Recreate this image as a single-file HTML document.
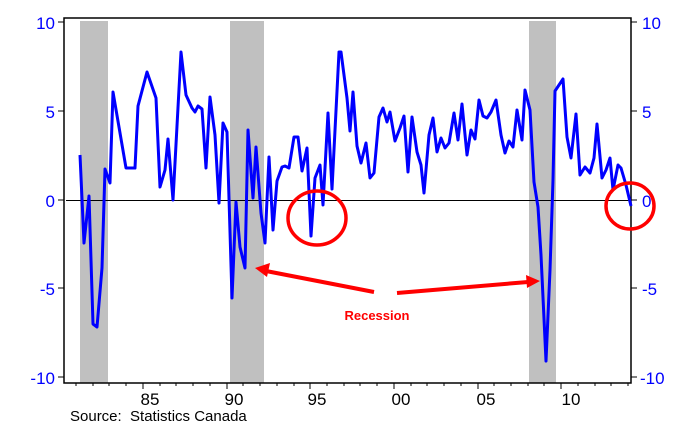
<!DOCTYPE html>
<html><head><style>body{margin:0;background:#fff}svg{display:block}</style></head><body>
<svg width="682" height="432" viewBox="0 0 682 432" font-family="Liberation Sans, sans-serif">
<rect x="80" y="21" width="28" height="362" fill="#c0c0c0"/>
<rect x="230" y="21" width="34" height="362" fill="#c0c0c0"/>
<rect x="529" y="21" width="27" height="362" fill="#c0c0c0"/>
<line x1="66" y1="200.5" x2="630" y2="200.5" stroke="#000" stroke-width="1"/>
<rect x="64" y="18" width="567" height="365" fill="none" stroke="#000" stroke-width="1.5"/>
<g stroke="#000" stroke-width="1">
<line x1="58" y1="22" x2="64" y2="22"/><line x1="58" y1="111" x2="64" y2="111"/><line x1="58" y1="200" x2="64" y2="200"/><line x1="58" y1="288" x2="64" y2="288"/><line x1="58" y1="377" x2="64" y2="377"/>
<line x1="631" y1="22" x2="637" y2="22"/><line x1="631" y1="111" x2="637" y2="111"/><line x1="631" y1="200" x2="637" y2="200"/><line x1="631" y1="288" x2="637" y2="288"/><line x1="631" y1="377" x2="637" y2="377"/>
</g>
<g stroke="#000" stroke-width="1">
<line x1="76" y1="383" x2="76" y2="386"/><line x1="93" y1="383" x2="93" y2="386"/><line x1="109" y1="383" x2="109" y2="386"/><line x1="126" y1="383" x2="126" y2="386"/>
<line x1="143" y1="383" x2="143" y2="389"/>
<line x1="160" y1="383" x2="160" y2="386"/><line x1="176" y1="383" x2="176" y2="386"/><line x1="193" y1="383" x2="193" y2="386"/><line x1="210" y1="383" x2="210" y2="386"/>
<line x1="227" y1="383" x2="227" y2="389"/>
<line x1="243" y1="383" x2="243" y2="386"/><line x1="260" y1="383" x2="260" y2="386"/><line x1="277" y1="383" x2="277" y2="386"/><line x1="294" y1="383" x2="294" y2="386"/>
<line x1="310" y1="383" x2="310" y2="389"/>
<line x1="327" y1="383" x2="327" y2="386"/><line x1="344" y1="383" x2="344" y2="386"/><line x1="360" y1="383" x2="360" y2="386"/><line x1="377" y1="383" x2="377" y2="386"/>
<line x1="394" y1="383" x2="394" y2="389"/>
<line x1="411" y1="383" x2="411" y2="386"/><line x1="427" y1="383" x2="427" y2="386"/><line x1="444" y1="383" x2="444" y2="386"/><line x1="461" y1="383" x2="461" y2="386"/>
<line x1="478" y1="383" x2="478" y2="389"/>
<line x1="494" y1="383" x2="494" y2="386"/><line x1="511" y1="383" x2="511" y2="386"/><line x1="528" y1="383" x2="528" y2="386"/><line x1="544" y1="383" x2="544" y2="386"/>
<line x1="561" y1="383" x2="561" y2="389"/>
<line x1="578" y1="383" x2="578" y2="386"/><line x1="595" y1="383" x2="595" y2="386"/><line x1="611" y1="383" x2="611" y2="386"/><line x1="628" y1="383" x2="628" y2="386"/>
</g>
<g fill="#0000ff" font-size="17" text-anchor="end">
<text x="55" y="29">10</text><text x="55" y="118">5</text><text x="55" y="207">0</text><text x="55" y="295">-5</text><text x="55" y="384">-10</text>
</g>
<g fill="#0000ff" font-size="17">
<text x="642" y="29">10</text><text x="642" y="118">5</text><text x="642" y="207">0</text><text x="642" y="295">-5</text><text x="640" y="384">-10</text>
</g>
<g font-size="17" text-anchor="middle" fill="#000">
<text x="150" y="405">85</text><text x="234" y="405">90</text><text x="317" y="405">95</text><text x="401" y="405">00</text><text x="486" y="405">05</text><text x="571" y="405">10</text>
</g>
<text x="70" y="421" font-size="15" fill="#000" xml:space="preserve">Source:  Statistics Canada</text>
<polyline fill="none" stroke="#0000ff" stroke-width="3" stroke-linejoin="round" points="80,155 84,243 89,196 93,324 97,327 102,268 105,169 110,183 113,92 126,168 130,168 135,168 138,106 147,72 156,98 160,187 165,170 168,139 173,200 181,52 186,95 192,108 195,112 198,106 202,109 206,168 210,97 215,135 219,203 223,123 227,132 232,298 236,202 240,247 245,268 248,130 253,198 256,147 261,213 265,243 269,157 273,230 277,181 282,167 285,166 289,168 294,137 298,137 302,171 307,148 311,236 315,178 320,165 323,205 328,113 332,189 339,52 341,52 347,98 350,131 353,92 357,146 361,163 366,143 370,178 374,173 379,117 383,108 387,122 390,112 395,141 400,128 404,116 408,172 412,117 417,152 421,165 424,193 429,135 433,118 437,152 441,138 445,148 449,143 454,113 458,140 462,104 467,155 471,130 475,139 479,100 483,116 487,118 491,112 496,100 501,135 505,153 509,141 513,147 517,110 522,140 525,90 530,110 534,182 538,207 541,255 546,361 550,270 553,180 555,91 563,79 567,137 571,158 576,114 580,175 585,167 590,173 594,158 597,124 602,178 606,170 610,158 613,190 618,165 621,168 626,185 631,206"/>
<ellipse cx="317" cy="218" rx="29" ry="27" fill="none" stroke="#ff0000" stroke-width="3.5"/>
<ellipse cx="630" cy="206" rx="24" ry="23" fill="none" stroke="#ff0000" stroke-width="3.5"/>
<g stroke="#ff0000" stroke-width="4" fill="#ff0000">
<line x1="374" y1="292" x2="266" y2="271"/>
<polygon points="255,268 270,263 267,277" stroke="none"/>
<line x1="397" y1="293" x2="528" y2="282"/>
<polygon points="540,281 526,275 527,288" stroke="none"/>
</g>
<text x="377" y="320" font-size="13" font-weight="bold" fill="#ff0000" text-anchor="middle">Recession</text>
</svg>
</body></html>
